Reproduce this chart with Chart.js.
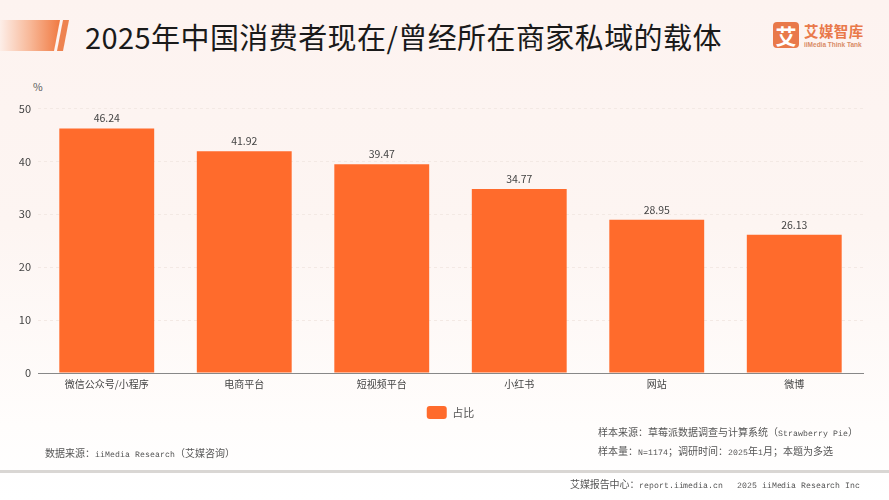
<!DOCTYPE html>
<html lang="zh"><head><meta charset="utf-8">
<script src="https://cdn.jsdelivr.net/npm/chart.js@4/dist/chart.umd.min.js"></script>
<style>
@font-face{font-family:"LM";src:local("Liberation Mono");size-adjust:82%;unicode-range:U+0020-007E}
html,body{margin:0;padding:0;width:889px;height:500px;overflow:hidden}
body{position:relative;background:linear-gradient(180deg,#fdf3f0 0%,#fdf5f2 45%,#fffdfc 85%,#fff 100%);font-family:"Noto Sans CJK SC","Noto Sans",sans-serif}
canvas{position:absolute;left:0;top:0}
.a{position:absolute;white-space:nowrap}
#bar{left:0;top:20px;width:60px;height:31px;background:linear-gradient(90deg,#fdeee8 0%,#f8b898 50%,#f07a42 100%);clip-path:polygon(0 0,100% 0,90% 100%,0 100%)}
#sl{left:57px;top:20px;width:12px;height:31px;background:#ee8350;clip-path:polygon(50% 0,100% 0,50% 100%,0 100%)}
#title{left:85px;top:16px;font-size:29px;line-height:40px;color:#1a1a1a;letter-spacing:.42px}
#pct{left:33px;top:80px;font-size:10.5px;line-height:14px;color:#555}
.m{font-family:"LM","Noto Sans CJK SC",monospace;font-size:10px;line-height:12px;color:#555}
#band{left:0;top:470px;width:889px;height:3px;background:#d9d6d3}
#logo{left:773px;top:22px;width:26px;height:26px;border-radius:4px;background:#e9794a;color:#fff;font-size:21px;line-height:26px;text-align:center;font-weight:700}
#ln{left:804px;top:22px;font-size:14.5px;line-height:18px;font-weight:700;color:#e9794a;letter-spacing:.4px}
#le{left:804px;top:41px;font-size:6.5px;line-height:8px;font-weight:700;color:#d98b66;font-family:"Liberation Sans",sans-serif}
</style></head><body>
<div class="a" id="bar"></div><div class="a" id="sl"></div>
<div class="a" id="title">2025年中国消费者现在/曾经所在商家私域的载体</div>
<div class="a" id="logo">艾</div><div class="a" id="ln">艾媒智库</div><div class="a" id="le">iiMedia Think Tank</div>
<div class="a" id="pct">%</div>
<canvas id="c" width="889" height="500"></canvas>
<div class="a m" style="left:45px;top:449px">数据来源：iiMedia Research（艾媒咨询）</div>
<div class="a m" style="left:598px;top:428px">样本来源：草莓派数据调查与计算系统（Strawberry Pie）</div>
<div class="a m" style="left:598px;top:447px">样本量：N=1174；调研时间：2025年1月；本题为多选</div>
<div class="a" id="band"></div>
<div class="a m" style="left:570px;top:480px;letter-spacing:-.1px">艾媒报告中心：report.iimedia.cn&nbsp;&nbsp;&nbsp;2025 iiMedia Research Inc</div>
<script>
const categories=["微信公众号/小程序","电商平台","短视频平台","小红书","网站","微博"];
const values=[46.24,41.92,39.47,34.77,28.95,26.13];
const seriesName="占比";
const yTicks=[0,10,20,30,40,50];
const font='"Noto Sans CJK SC","Noto Sans",sans-serif';
const barLabels={id:"barLabels",afterDatasetsDraw(ch){
  const x=ch.ctx,m=ch.getDatasetMeta(0);
  x.save();x.font="10.5px "+font;x.fillStyle="#444";x.textAlign="center";x.textBaseline="bottom";
  m.data.forEach((e,i)=>x.fillText(values[i].toFixed(2),e.x,e.y-5));
  x.restore();
}};
new Chart(document.getElementById("c"),{
  type:"bar",
  data:{labels:categories,datasets:[{label:seriesName,data:values,backgroundColor:"#ff6b2c",barPercentage:.69,categoryPercentage:1}]},
  plugins:[barLabels],
  options:{
    responsive:false,animation:false,
    layout:{padding:{left:0,right:26,top:108.5,bottom:71}},
    plugins:{tooltip:{enabled:false},
      legend:{position:"bottom",fullSize:false,labels:{boxWidth:20,boxHeight:13,useBorderRadius:true,borderRadius:3,color:"#555",font:{family:font,size:11},padding:6}}},
    scales:{
      x:{grid:{display:false,drawTicks:false},border:{color:"#888",width:1},ticks:{color:"#444",font:{family:font,size:10},padding:5,maxRotation:0,autoSkip:false},afterFit(s){s.height=27}},
      y:{min:0,max:50,afterBuildTicks(s){s.ticks=yTicks.map(v=>({value:v}))},afterFit(s){s.width=38},
        grid:{color:"#f3e9e4",drawTicks:false},border:{display:false,dash:[3,3]},
        ticks:{color:"#444",font:{family:font,size:11},padding:7}}
    }
  }
});
</script></body></html>
